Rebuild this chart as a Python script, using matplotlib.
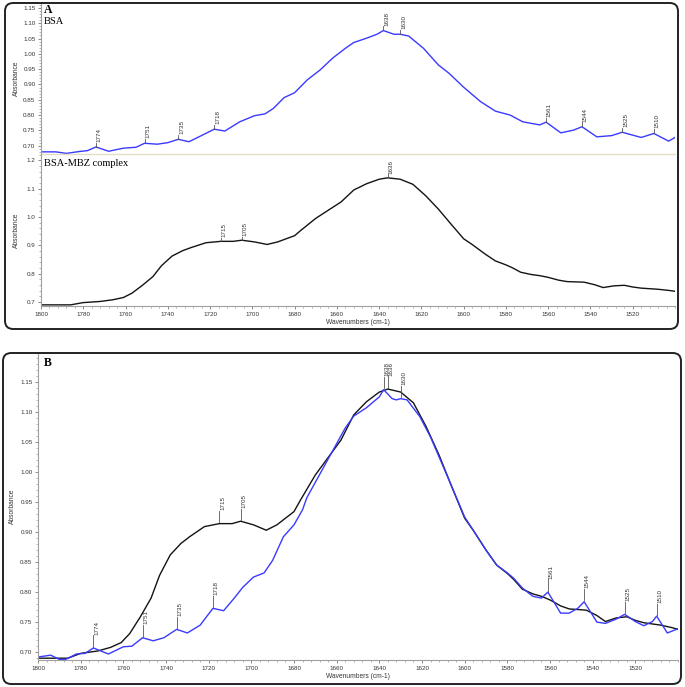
import numpy as np
import matplotlib
matplotlib.use('Agg')
import matplotlib.pyplot as plt
import matplotlib.transforms as mtransforms
from matplotlib.patches import FancyBboxPatch
from matplotlib.ticker import MultipleLocator, FormatStrFormatter

# BSA spectrum as drawn in panel A (top trace)
bsa_a_wn = [1800, 1793, 1788, 1782, 1778, 1774, 1768, 1761, 1755, 1751, 1745, 1740,
            1735, 1730, 1725, 1718, 1713, 1706, 1699, 1694, 1690, 1685, 1680, 1674,
            1668, 1662, 1656, 1652, 1646, 1641, 1638, 1633, 1630, 1626, 1619, 1612,
            1607, 1600, 1592, 1585, 1578, 1572, 1564, 1561, 1554, 1548, 1544, 1537,
            1530, 1525, 1516, 1510, 1503, 1500]
bsa_a_abs = [0.680, 0.680, 0.675, 0.681, 0.684, 0.696, 0.682, 0.692, 0.695, 0.708, 0.705, 0.710,
             0.721, 0.713, 0.730, 0.754, 0.748, 0.778, 0.798, 0.804, 0.822, 0.857, 0.873, 0.915,
             0.947, 0.986, 1.018, 1.037, 1.051, 1.064, 1.076, 1.064, 1.064, 1.058, 1.018, 0.964,
             0.937, 0.891, 0.844, 0.813, 0.800, 0.778, 0.768, 0.777, 0.742, 0.751, 0.762, 0.729,
             0.733, 0.744, 0.727, 0.740, 0.715, 0.727]

# BSA spectrum as drawn in panel B
bsa_b_wn = [1800, 1794, 1790, 1787, 1782, 1778, 1774, 1767, 1760, 1756, 1751, 1746,
            1741, 1735, 1730, 1724, 1718, 1713, 1708, 1704, 1699, 1694, 1690, 1685,
            1680, 1676, 1674, 1665, 1656, 1652, 1646, 1640, 1638, 1634, 1632, 1630,
            1627, 1621, 1616, 1612, 1608, 1600, 1596, 1590, 1585, 1580, 1577, 1573,
            1568, 1564, 1561, 1555, 1551, 1547, 1544, 1538, 1534, 1529, 1525, 1520,
            1516, 1512, 1510, 1505, 1500]
bsa_b_abs = [0.692, 0.695, 0.688, 0.688, 0.697, 0.698, 0.707, 0.697, 0.709, 0.710, 0.724, 0.719,
             0.724, 0.738, 0.732, 0.745, 0.773, 0.769, 0.790, 0.808, 0.825, 0.832, 0.853, 0.892,
             0.912, 0.937, 0.957, 1.015, 1.073, 1.093, 1.107, 1.125, 1.137, 1.122, 1.120, 1.122,
             1.120, 1.092, 1.058, 1.025, 0.992, 0.925, 0.903, 0.870, 0.845, 0.832, 0.823, 0.807,
             0.793, 0.790, 0.800, 0.765, 0.765, 0.773, 0.784, 0.750, 0.748, 0.755, 0.763, 0.751,
             0.744, 0.751, 0.760, 0.732, 0.739]

# BSA-MBZ complex spectrum (panel A bottom and panel B)
cpx_wn = [1800, 1792, 1786, 1780, 1772, 1766, 1761, 1757, 1752, 1747, 1743, 1738,
          1733, 1729, 1722, 1715, 1709, 1705, 1699, 1693, 1688, 1680, 1677, 1670,
          1658, 1652, 1646, 1640, 1636, 1630, 1624, 1618, 1612, 1606, 1600, 1596,
          1590, 1585, 1580, 1577, 1573, 1568, 1564, 1560, 1555, 1551, 1547, 1543,
          1538, 1534, 1529, 1524, 1520, 1516, 1512, 1508, 1503, 1499]
cpx_abs = [0.690, 0.690, 0.690, 0.698, 0.702, 0.708, 0.716, 0.731, 0.759, 0.790, 0.828, 0.862,
           0.881, 0.892, 0.909, 0.914, 0.914, 0.918, 0.912, 0.903, 0.912, 0.934, 0.953, 0.995,
           1.053, 1.095, 1.117, 1.133, 1.138, 1.133, 1.115, 1.075, 1.028, 0.975, 0.923, 0.903,
           0.870, 0.845, 0.831, 0.821, 0.805, 0.797, 0.793, 0.787, 0.777, 0.772, 0.771, 0.770,
           0.761, 0.751, 0.757, 0.759, 0.753, 0.749, 0.747, 0.745, 0.741, 0.737]

bsa_peaks = [1774, 1751, 1735, 1718, 1638, 1630, 1561, 1544, 1525, 1510]
cpx_peaks = [1715, 1705, 1636]

x_ticks = list(range(1520, 1801, 20))

BLUE = '#3a3aff'
BLACK = '#141414'
FONT = 'Liberation Sans'
SERIF = 'Liberation Serif'

W, H = 685, 687
fig = plt.figure(figsize=(W / 100, H / 100), dpi=100)


def px_box(left, top, right, bottom):
    # convert pixel box (from top left) to figure fraction rect
    return [left / W, 1 - bottom / H, (right - left) / W, (bottom - top) / H]


def style_axis(ax, ylim, major, minor, fmt, show_x=True):
    ax.set_xlim(1800, 1500)
    ax.set_ylim(*ylim)
    ax.yaxis.set_major_locator(MultipleLocator(major))
    ax.yaxis.set_minor_locator(MultipleLocator(minor))
    ax.yaxis.set_major_formatter(FormatStrFormatter(fmt))
    ax.set_xticks(x_ticks)
    ax.xaxis.set_minor_locator(MultipleLocator(4))
    for s in ['top', 'right']:
        ax.spines[s].set_visible(False)
    ax.spines['left'].set_color('#a0a0a0')
    ax.spines['left'].set_linewidth(0.8)
    ax.tick_params(axis='both', which='major', length=2.5, width=0.6, color='#777',
                   labelsize=4.5, labelcolor='#333', pad=1.5)
    ax.tick_params(axis='both', which='minor', length=1.3, width=0.5, color='#999')
    for lab in ax.get_xticklabels() + ax.get_yticklabels():
        lab.set_fontfamily(FONT)
    if show_x:
        ax.spines['bottom'].set_color('#a0a0a0')
        ax.spines['bottom'].set_linewidth(0.8)
        ax.set_xlabel('Wavenumbers (cm-1)', fontsize=4.8, fontfamily=FONT, color='#333', labelpad=2)
    else:
        # thin beige divider between the two traces of panel A
        ax.spines['bottom'].set_color('#e2dcc0')
        ax.spines['bottom'].set_linewidth(1.0)
        ax.tick_params(axis='x', which='both', bottom=False, labelbottom=False)
    ax.set_ylabel('Absorbance', fontsize=4.8, fontfamily=FONT, color='#333')
    ax.patch.set_alpha(0)


def mark_peaks(ax, wn, ab, peaks, stem):
    # small vertical stem above each peak and a rotated wavenumber label
    off = mtransforms.offset_copy(ax.transData, fig=fig, x=0.6, y=0.5, units='points')
    x_inc = wn[::-1]
    y_inc = ab[::-1]
    for p in peaks:
        v = np.interp(p, x_inc, y_inc)
        ax.plot([p, p], [v + stem * 0.1, v + stem], color='#555', lw=0.6)
        ax.text(p, v + stem, str(p), rotation=90, ha='left', va='bottom', fontsize=4.5,
                fontfamily=FONT, color='#333', transform=off)


# ---- panel A ----
ax_a1 = fig.add_axes(px_box(41, 3, 675, 154))
ax_a1.plot(bsa_a_wn, bsa_a_abs, color=BLUE, lw=1.0)
style_axis(ax_a1, (0.673, 1.166), 0.05, 0.01, '%.2f', show_x=False)
mark_peaks(ax_a1, bsa_a_wn, bsa_a_abs, bsa_peaks, 0.014)
ax_a1.yaxis.set_label_coords(-0.033, 0.5)

ax_a2 = fig.add_axes(px_box(41, 154, 675, 306))
ax_a2.plot(cpx_wn, cpx_abs, color=BLACK, lw=1.0)
style_axis(ax_a2, (0.686, 1.222), 0.1, 0.02, '%.1f')
mark_peaks(ax_a2, cpx_wn, cpx_abs, cpx_peaks, 0.012)
ax_a2.yaxis.set_label_coords(-0.033, 0.5)

# ---- panel B ----
ax_b = fig.add_axes(px_box(38, 353, 678, 660))
ax_b.plot(cpx_wn, cpx_abs, color=BLACK, lw=1.0)
ax_b.plot(bsa_b_wn, bsa_b_abs, color=BLUE, lw=1.0)
style_axis(ax_b, (0.687, 1.198), 0.05, 0.01, '%.2f')
mark_peaks(ax_b, bsa_b_wn, bsa_b_abs, bsa_peaks, 0.021)
mark_peaks(ax_b, cpx_wn, cpx_abs, cpx_peaks, 0.021)
ax_b.yaxis.set_label_coords(-0.035, 0.5)

# panel letters and trace names
fig.text(44 / W, 1 - 10 / H, 'A', fontsize=8.5, fontweight='bold', fontfamily=SERIF, va='center')
fig.text(44 / W, 1 - 21 / H, 'BSA', fontsize=7.5, fontfamily=SERIF, va='center')
fig.text(44 / W, 1 - 163 / H, 'BSA-MBZ complex', fontsize=7.5, fontfamily=SERIF, va='center')
fig.text(44 / W, 1 - 363 / H, 'B', fontsize=8.5, fontweight='bold', fontfamily=SERIF, va='center')

# rounded frames around both panels
for l, t, r, b in [(5, 3, 678, 329), (3, 353, 681, 684)]:
    box = FancyBboxPatch((l / W, 1 - b / H), (r - l) / W, (b - t) / H,
                         boxstyle='round,pad=0,rounding_size=0.012',
                         transform=fig.transFigure, fill=False, ec='#222', lw=1.4)
    fig.add_artist(box)

fig.savefig('out.png', dpi=100)
